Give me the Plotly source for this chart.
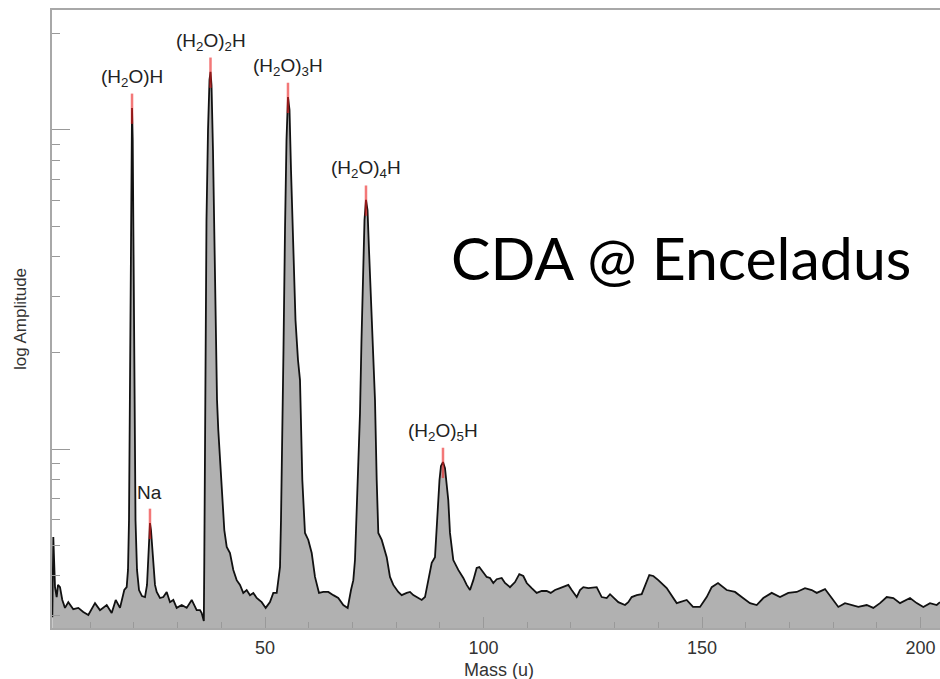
import plotly.graph_objects as go

# Spectrum: mass (u) and log10 amplitude
mass = [1.33, 1.56, 1.95, 2.33, 2.63, 3.09, 3.62, 4.23, 4.99, 6.13, 7.28, 8.42, 9.57, 11.10, 12.24,
        13.78, 14.92, 15.84, 16.82, 17.80, 18.35, 18.65, 18.88, 19.11, 19.29, 19.45, 19.57, 19.73,
        19.91, 20.14, 20.37, 20.71, 21.17, 21.85, 22.54, 23.00, 23.30, 23.52, 23.68, 23.91, 24.21,
        24.44, 24.83, 25.22, 25.97, 26.73, 27.51, 28.26, 29.02, 29.79, 30.94, 32.08, 33.23, 34.37,
        35.13, 35.51, 35.88, 36.00, 36.11, 36.22, 36.38, 36.61, 36.96, 37.30, 37.53, 37.76, 38.10,
        38.44, 38.79, 39.02, 39.31, 39.93, 40.69, 41.24, 41.99, 42.75, 43.52, 44.28, 45.03, 45.81,
        46.57, 47.32, 48.10, 49.24, 50.16, 51.14, 51.90, 52.68, 53.43, 53.66, 53.96, 54.23, 54.58,
        54.92, 55.26, 55.61, 55.95, 56.41, 56.98, 57.55, 58.01, 58.54, 58.92, 59.15, 59.91, 60.69,
        61.44, 62.36, 63.34, 64.49, 65.63, 66.77, 67.92, 68.92, 69.68, 70.21, 70.59, 70.98, 71.35,
        71.74, 72.08, 72.43, 72.77, 73.11, 73.46, 73.80, 74.49, 75.17, 75.56, 75.93, 76.71, 77.85,
        78.60, 79.36, 80.50, 81.28, 82.43, 83.18, 83.94, 85.08, 85.86, 86.61, 87.37, 88.15, 88.90,
        89.29, 89.66, 89.93, 90.27, 90.73, 91.19, 91.53, 91.94, 92.33, 93.09, 94.23, 95.38, 96.15,
        96.91, 97.67, 98.44, 99.04, 99.95, 100.73, 101.49, 102.24, 103.02, 104.16, 104.92, 106.06,
        107.21, 108.19, 109.11, 109.89, 111.03, 112.17, 113.32, 114.46, 115.38, 116.36, 117.51,
        118.65, 119.41, 120.18, 121.33, 122.08, 122.84, 123.98, 125.90, 127.05, 128.19, 128.95,
        129.70, 130.85, 132.38, 133.13, 133.91, 135.06, 136.20, 136.96, 137.94, 138.86, 140.00,
        141.92, 144.21, 146.50, 147.94, 149.54, 151.07, 152.22, 153.66, 155.65, 156.41, 157.55,
        159.08, 160.98, 162.52, 164.03, 165.95, 167.85, 169.75, 171.67, 173.57, 175.10, 176.25,
        178.15, 179.68, 181.19, 182.72, 184.26, 185.77, 187.69, 189.20, 190.73, 192.27, 193.78,
        195.31, 197.60, 199.13, 200.64, 202.17, 203.71, 204.46]

log_amp = [-0.527, -0.276, -0.433, -0.464, -0.426, -0.433, -0.473, -0.498, -0.480, -0.502, -0.498,
           -0.511, -0.520, -0.483, -0.505, -0.489, -0.514, -0.473, -0.498, -0.442, -0.433, -0.379,
           -0.223, 0.154, 0.624, 0.969, 1.069, 0.969, 0.592, 0.091, -0.223, -0.379, -0.442, -0.461,
           -0.464, -0.426, -0.326, -0.254, -0.232, -0.254, -0.317, -0.364, -0.426, -0.448, -0.467,
           -0.464, -0.448, -0.480, -0.473, -0.498, -0.489, -0.498, -0.473, -0.505, -0.505, -0.514,
           -0.536, -0.539, -0.348, -0.003, 0.373, 0.718, 1.000, 1.157, 1.182, 1.141, 0.937, 0.592,
           0.310, 0.154, 0.060, -0.097, -0.254, -0.307, -0.326, -0.379, -0.411, -0.426, -0.451,
           -0.442, -0.458, -0.451, -0.467, -0.480, -0.498, -0.480, -0.451, -0.451, -0.370, -0.223,
           0.006, 0.310, 0.687, 0.969, 1.103, 1.063, 0.875, 0.624, 0.404, 0.279, 0.216, -0.097,
           -0.223, -0.263, -0.285, -0.326, -0.401, -0.451, -0.448, -0.448, -0.458, -0.467, -0.489,
           -0.498, -0.442, -0.411, -0.348, -0.201, -0.034, 0.113, 0.342, 0.561, 0.718, 0.781, 0.749,
           0.624, 0.404, 0.154, -0.097, -0.263, -0.285, -0.339, -0.401, -0.426, -0.448, -0.458,
           -0.451, -0.448, -0.458, -0.467, -0.473, -0.464, -0.411, -0.357, -0.339, -0.245, -0.160,
           -0.097, -0.053, -0.041, -0.060, -0.113, -0.160, -0.263, -0.348, -0.379, -0.404, -0.426,
           -0.442, -0.411, -0.373, -0.370, -0.386, -0.401, -0.404, -0.420, -0.408, -0.404, -0.420,
           -0.433, -0.417, -0.392, -0.398, -0.420, -0.436, -0.451, -0.445, -0.445, -0.451, -0.442,
           -0.436, -0.429, -0.426, -0.442, -0.464, -0.442, -0.433, -0.436, -0.433, -0.464, -0.467,
           -0.455, -0.464, -0.480, -0.489, -0.480, -0.464, -0.458, -0.455, -0.426, -0.395, -0.398,
           -0.411, -0.436, -0.483, -0.473, -0.495, -0.495, -0.464, -0.433, -0.420, -0.442, -0.445,
           -0.448, -0.464, -0.483, -0.489, -0.467, -0.451, -0.464, -0.451, -0.448, -0.436, -0.442,
           -0.451, -0.439, -0.467, -0.495, -0.483, -0.489, -0.495, -0.489, -0.498, -0.483, -0.464,
           -0.467, -0.483, -0.467, -0.483, -0.495, -0.483, -0.489, -0.480]

# Labelled peaks
peak_labels = ["(H<sub>2</sub>O)H", "Na", "(H<sub>2</sub>O)<sub>2</sub>H", "(H<sub>2</sub>O)<sub>3</sub>H",
               "(H<sub>2</sub>O)<sub>4</sub>H", "(H<sub>2</sub>O)<sub>5</sub>H"]
peak_mass = [19.57, 23.68, 37.53, 55.26, 73.11, 90.73]
peak_log = [1.069, -0.232, 1.182, 1.103, 0.781, -0.041]

x_major = [50, 100, 150, 200]
x_minor = [10, 20, 30, 40, 60, 70, 80, 90, 110, 120, 130, 140, 160, 170, 180, 190]
y_major = [1, 10]
y_minor = [0.3, 0.4, 0.5, 0.6, 0.7, 0.8, 0.9, 2, 3, 4, 5, 6, 7, 8, 9, 20]

amp = [10 ** v for v in log_amp]

fig = go.Figure()
# baseline (below axis bottom) used as fill reference
fig.add_trace(go.Scatter(x=[mass[0], mass[-1]], y=[0.1, 0.1], mode="lines",
                         line=dict(width=0), showlegend=False, hoverinfo="skip"))
fig.add_trace(go.Scatter(x=mass, y=amp, mode="lines", fill="tonexty",
                         fillcolor="#b1b1b1", line=dict(color="#111111", width=1.8),
                         showlegend=False))

for m, p in zip(peak_mass, peak_log):
    fig.add_trace(go.Scatter(x=[m, m], y=[10 ** (p + 0.045), 10 ** (p - 0.05)], mode="lines",
                             line=dict(color="rgba(235,30,30,0.6)", width=2.5),
                             showlegend=False, hoverinfo="skip"))

annotations = []
for lab, m, p in zip(peak_labels, peak_mass, peak_log):
    annotations.append(dict(x=m, y=p + 0.045, xref="x", yref="y", text=lab, showarrow=False,
                            xanchor="center", yanchor="middle", yshift=16,
                            font=dict(family="Liberation Sans, Arial", size=19, color="#222")))

annotations.append(dict(x=0.708, y=0.6, xref="paper", yref="paper", text="CDA @ Enceladus",
                        showarrow=False, xanchor="center", yanchor="middle",
                        font=dict(family="Lato", size=59, color="#000")))
annotations.append(dict(x=0.503, y=-0.068, xref="paper", yref="paper", text="Mass (u)",
                        showarrow=False, xanchor="center", yanchor="middle",
                        font=dict(family="Liberation Sans, Arial", size=18, color="#333")))
annotations.append(dict(x=-0.036, y=0.5, xref="paper", yref="paper", text="log Amplitude",
                        textangle=-90, showarrow=False, xanchor="center", yanchor="middle",
                        font=dict(family="Liberation Sans, Arial", size=17, color="#333")))

fig.update_layout(
    width=940, height=679,
    margin=dict(l=52, r=0, t=10, b=51),
    paper_bgcolor="white", plot_bgcolor="white",
    annotations=annotations,
    xaxis=dict(range=[1.26, 204.46], showgrid=False, zeroline=False,
               showline=True, linecolor="#a8a8a8", linewidth=1.5, mirror=True,
               tickmode="array", tickvals=x_major, ticks="inside", ticklen=11,
               tickcolor="#999", tickwidth=1.2,
               tickfont=dict(family="Liberation Sans, Arial", size=18, color="#333"),
               ticklabelstandoff=3,
               minor=dict(tickmode="array", tickvals=x_minor, ticks="inside", ticklen=6,
                          tickcolor="#999", tickwidth=1.2)),
    yaxis=dict(type="log", range=[-0.561, 1.376], showgrid=False, zeroline=False,
               showline=True, linecolor="#a8a8a8", linewidth=1.5,
               tickmode="array", tickvals=y_major, ticks="inside", ticklen=18,
               tickcolor="#999", tickwidth=1.2, showticklabels=False,
               minor=dict(tickmode="array", tickvals=y_minor, ticks="inside", ticklen=8,
                          tickcolor="#999", tickwidth=1.2)),
)

fig.write_html("out.html")
